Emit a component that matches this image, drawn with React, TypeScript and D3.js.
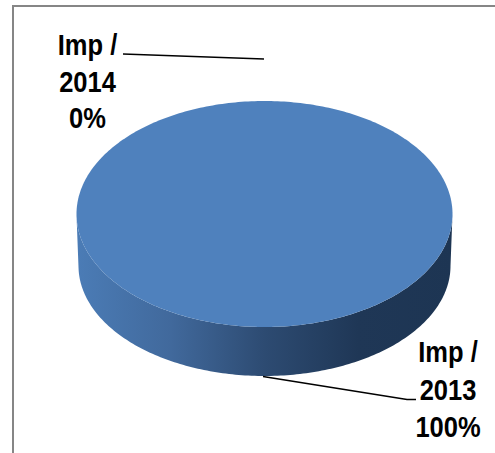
import React from "react";
import * as d3 from "d3";

const categories = ["Imp / 2014", "Imp / 2013"];
const values = [0, 100];
const labelLines = [
  ["Imp /", "2014", "0%"],
  ["Imp /", "2013", "100%"],
];

const W = 495, H = 453;
const cx = 264.5, cy = 214, rx = 188, ry = 113;
const bottomCy = 266, bottomRx = 186, bottomRy = 110;

export default function App() {
  const pie = d3.pie<number>().sort(null)(values);
  const angle = pie[1].endAngle - pie[1].startAngle;
  const pt = (a: number, r1: number, r2: number, c: number): [number, number] => [
    cx + r1 * Math.sin(a),
    c - r2 * Math.cos(a),
  ];
  const ell = d3.range(0, 361).map((d) => (d / 360) * angle);
  const top = d3.line().curve(d3.curveLinearClosed)(ell.map((a) => pt(a, rx, ry, cy))) ?? "";
  const front = ell.filter((a) => a >= Math.PI / 2 && a <= Math.PI * 1.5);
  const side = d3.line().curve(d3.curveLinearClosed)([
    ...front.map((a) => pt(a, rx, ry, cy)),
    ...front.slice().reverse().map((a) => pt(a, bottomRx, bottomRy, bottomCy)),
  ]) ?? "";
  const labelStyle = { fontFamily: "Liberation Sans, Arial, sans-serif", fontWeight: 700, fontSize: 30 };
  const drawLabel = (lines: string[], x0: number, baselines: number[], sx: number) =>
    lines.map((t, i) => (
      <text key={t} textAnchor="middle" transform={`translate(${x0} ${baselines[i]}) scale(${sx} 1)`} fill="#000" style={labelStyle}>
        {t}
      </text>
    ));
  return (
    <svg width={W} height={H} style={{ position: "absolute", left: 0, top: 0 }}>
      <defs>
        <linearGradient id="side" gradientUnits="userSpaceOnUse" x1={cx - rx} x2={cx + rx} y1="0" y2="0">
          <stop offset="0" stopColor="#4b7cb6" />
          <stop offset="0.25" stopColor="#41699c" />
          <stop offset="0.5" stopColor="#2d4b72" />
          <stop offset="0.75" stopColor="#1f3756" />
          <stop offset="1" stopColor="#1d3553" />
        </linearGradient>
        <title>{categories.join(", ")}</title>
      </defs>
      <rect width={W} height={H} fill="#fff" />
      <path d={`M13 ${H}V6H${W}`} fill="none" stroke="#868686" strokeWidth={2} />
      <path d={side} fill="url(#side)" />
      <path d={top} fill="#4f81bd" />
      <path d="M123 54L264 59" stroke="#000" strokeWidth={1.5} fill="none" />
      <path d="M263 376.5L407 399.5H416" stroke="#000" strokeWidth={1.5} fill="none" />
      {drawLabel(labelLines[0], 87.5, [55, 92, 128], 0.85)}
      {drawLabel(labelLines[1], 448, [362, 400, 437], 0.85)}
    </svg>
  );
}
